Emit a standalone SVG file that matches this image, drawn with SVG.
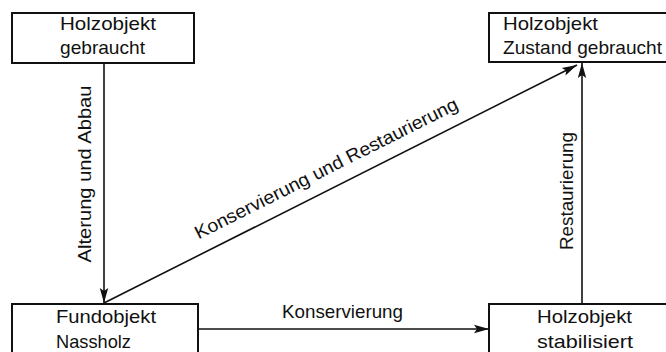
<svg xmlns="http://www.w3.org/2000/svg" width="666" height="352" viewBox="0 0 666 352">
<defs>
<marker id="ah" markerUnits="userSpaceOnUse" markerWidth="16" markerHeight="10" refX="15" refY="5" orient="auto">
<path d="M0,0.8 L15,5 L0,9.2 L3,5 Z" fill="#111"/>
</marker>
<style>
.box{fill:#fff;stroke:#111;stroke-width:2}
.t{font-family:"Liberation Sans",Arial,sans-serif;font-size:19px;fill:#111}
.l{font-family:"Liberation Sans",Arial,sans-serif;font-size:18.5px;fill:#111}
.c{fill:none;stroke:#111;stroke-width:1.6;marker-end:url(#ah)}
</style>
</defs>
<rect width="666" height="352" fill="#fff"/>
<g id="connectors">
<line class="c" x1="104" y1="63" x2="104" y2="303"/>
<line class="c" x1="104" y1="303" x2="577" y2="65"/>
<line class="c" x1="198" y1="329" x2="489" y2="329"/>
<line class="c" x1="582" y1="304" x2="582" y2="63"/>
<text class="l" transform="translate(91,174) rotate(-90)" text-anchor="middle" textLength="177" lengthAdjust="spacingAndGlyphs">Alterung und Abbau</text>
<text class="l" transform="translate(573,191) rotate(-90)" text-anchor="middle" textLength="118" lengthAdjust="spacingAndGlyphs">Restaurierung</text>
<text class="l" transform="translate(329,174) rotate(-26.7)" text-anchor="middle" textLength="292" lengthAdjust="spacingAndGlyphs">Konservierung und Restaurierung</text>
<text class="l" x="282" y="318" textLength="121" lengthAdjust="spacingAndGlyphs">Konservierung</text>
</g>
<g id="n1">
<rect class="box" x="12" y="13" width="182" height="50"/>
<text class="t" x="60" y="30" textLength="96" lengthAdjust="spacingAndGlyphs">Holzobjekt</text>
<text class="t" x="60" y="54" textLength="85" lengthAdjust="spacingAndGlyphs">gebraucht</text>
</g>
<g id="n2">
<rect class="box" x="489" y="13" width="190" height="49"/>
<text class="t" x="503" y="30" textLength="95" lengthAdjust="spacingAndGlyphs">Holzobjekt</text>
<text class="t" x="503" y="54" textLength="159" lengthAdjust="spacingAndGlyphs">Zustand gebraucht</text>
</g>
<g id="n3">
<rect class="box" x="12" y="304" width="186" height="60"/>
<text class="t" x="56" y="323" textLength="100" lengthAdjust="spacingAndGlyphs">Fundobjekt</text>
<text class="t" x="56" y="348" textLength="75" lengthAdjust="spacingAndGlyphs">Nassholz</text>
</g>
<g id="n4">
<rect class="box" x="489" y="304" width="190" height="60"/>
<text class="t" x="537" y="323" textLength="95" lengthAdjust="spacingAndGlyphs">Holzobjekt</text>
<text class="t" x="537" y="348" textLength="96" lengthAdjust="spacingAndGlyphs">stabilisiert</text>
</g>
</svg>
